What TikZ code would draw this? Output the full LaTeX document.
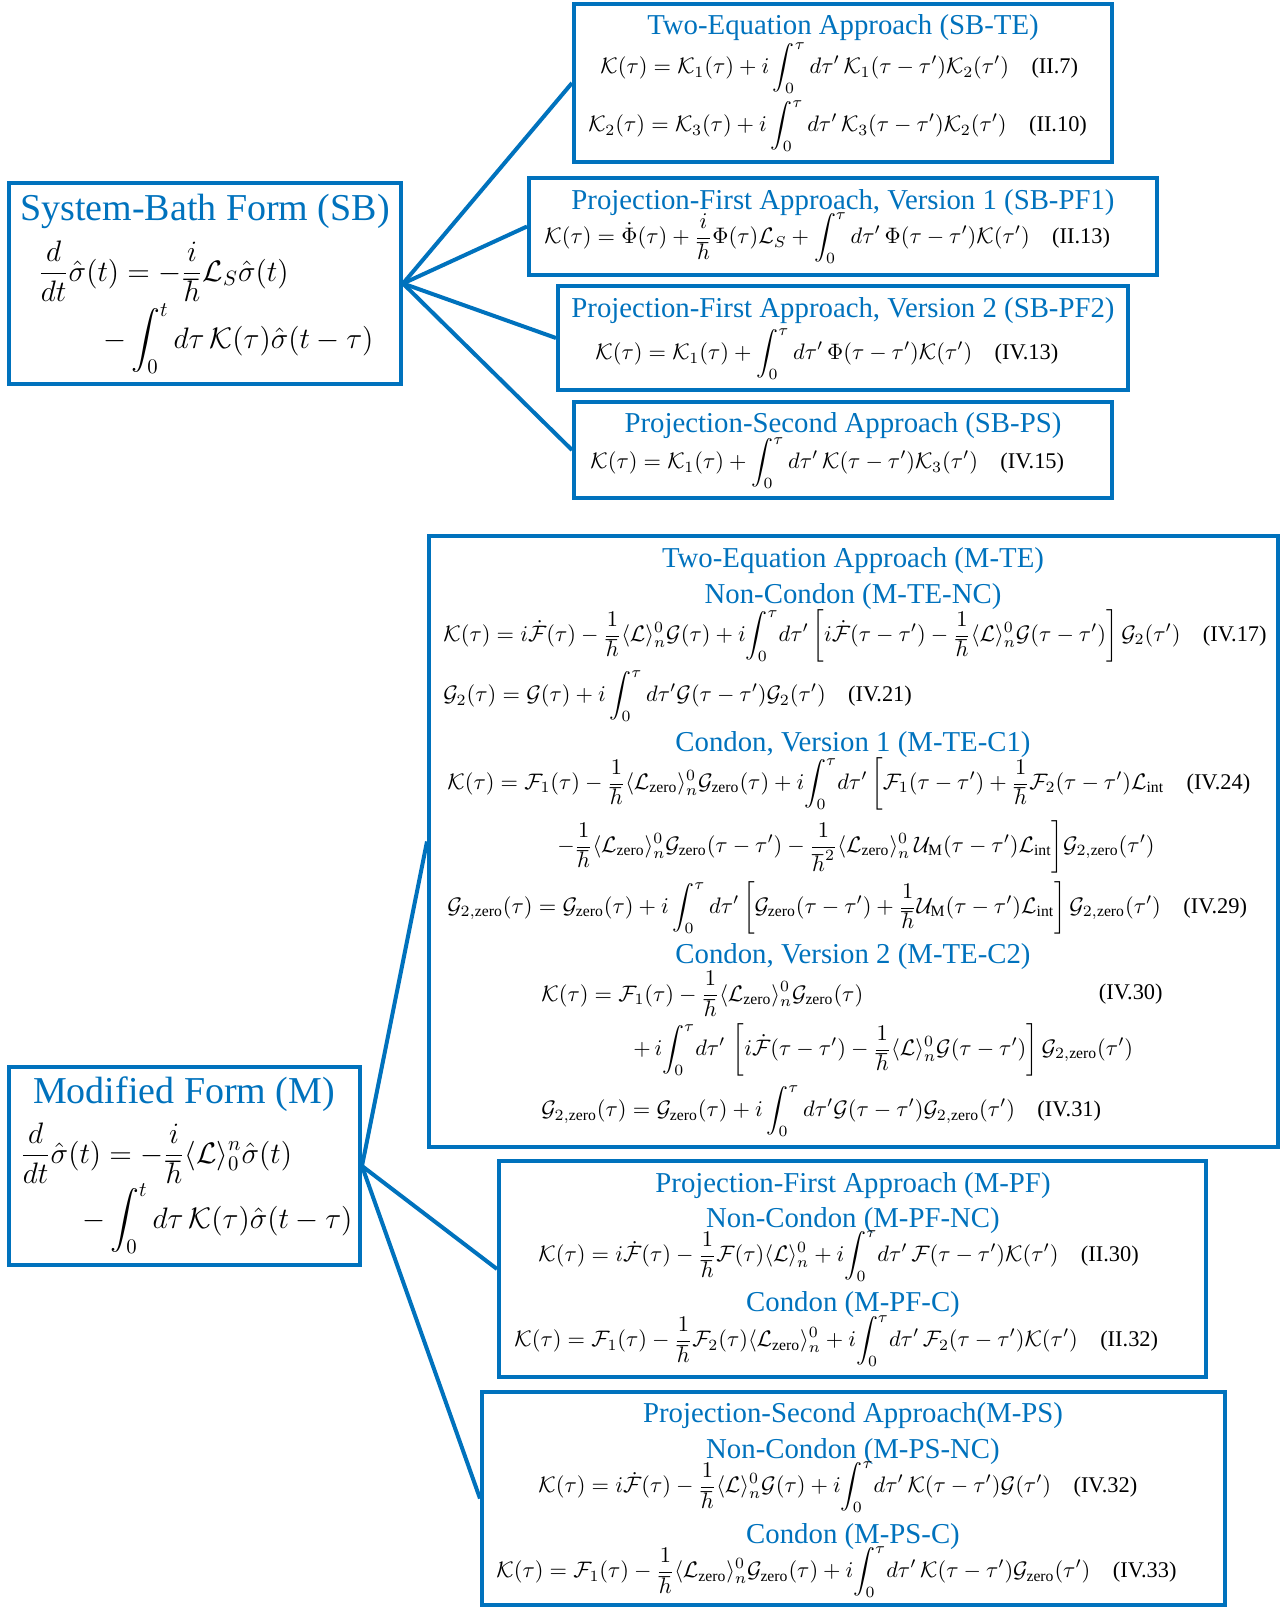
\documentclass[tikz,border=0pt]{standalone}
\usepackage{fix-cm}
\usepackage{amsmath}
\usepackage{fontspec}
\setmainfont{Liberation Serif}
\usepackage{tikz}
\definecolor{boxblue}{RGB}{0,114,189}
\newcommand{\Kc}{\mathcal{K}}
\newcommand{\Fc}{\mathcal{F}}
\newcommand{\Gc}{\mathcal{G}}
\newcommand{\Lc}{\mathcal{L}}
\newcommand{\zr}{\text{zero}}

\begin{document}
\begin{tikzpicture}[x=0.5pt,y=-0.5pt,
  box/.style={draw=boxblue,line width=2pt,inner sep=0pt},
  link/.style={boxblue,line width=2pt},
  head/.style={text=boxblue,font=\fontsize{14.4}{17}\selectfont,inner sep=0pt},
  bighead/.style={text=boxblue,font=\fontsize{19}{23}\selectfont,inner sep=0pt},
  eq/.style={font=\fontsize{11.2}{13}\selectfont,inner sep=0pt,anchor=west},
  bigeq/.style={font=\fontsize{14.8}{17}\selectfont,inner sep=0pt,anchor=west}]
\useasboundingbox (0,0) rectangle (1281,1608);
\node[box,minimum width=196pt,minimum height=100.5pt] (sb) at (205,283.5) {};
\node[box,minimum width=269pt,minimum height=79pt] (sbte) at (843,83) {};
\node[box,minimum width=314pt,minimum height=48.5pt] (sbpfa) at (843,226.5) {};
\node[box,minimum width=285pt,minimum height=52pt] (sbpfb) at (843,338) {};
\node[box,minimum width=269pt,minimum height=48pt] (sbps) at (843,450) {};
\node[box,minimum width=175.5pt,minimum height=99pt] (m) at (184.5,1166) {};
\node[box,minimum width=424.5pt,minimum height=305.5pt] (mte) at (853.5,841.5) {};
\node[box,minimum width=353.5pt,minimum height=108pt] (mpf) at (852.5,1269) {};
\node[box,minimum width=371.5pt,minimum height=106.5pt] (mps) at (853.5,1498.5) {};
\draw[link] (sb.east) -- (sbte.west);
\draw[link] (sb.east) -- (sbpfa.west);
\draw[link] (sb.east) -- (sbpfb.west);
\draw[link] (sb.east) -- (sbps.west);
\draw[link] (m.east) -- (mte.west);
\draw[link] (m.east) -- (mpf.west);
\draw[link] (m.east) -- (mps.west);
\node[bighead] (sbtitle) at (205,211) {System-Bath Form (SB)};
\node[bigeq] (sbeqa) at (38,271) {$\displaystyle \frac{d}{dt}\hat{\sigma}(t)=-\frac{i}{\hbar}\Lc_S\hat{\sigma}(t)$};
\node[bigeq] (sbeqb) at (103,339) {$\displaystyle -\int_0^t d\tau\,\Kc(\tau)\hat{\sigma}(t-\tau)$};
\node[head] (sbtetitle) at (843,28) {Two-Equation Approach (SB-TE)};
\node[eq] (sbteeqa) at (600,68) {$\displaystyle \Kc(\tau)=\Kc_1(\tau)+i\int_0^\tau d\tau'\,\Kc_1(\tau-\tau')\Kc_2(\tau')$\quad(II.7)};
\node[eq] (sbteeqb) at (588,126) {$\displaystyle \Kc_2(\tau)=\Kc_3(\tau)+i\int_0^\tau d\tau'\,\Kc_3(\tau-\tau')\Kc_2(\tau')$\quad(II.10)};
\node[head] (sbpfatitle) at (843,203) {Projection-First Approach, Version 1 (SB-PF1)};
\node[eq] (sbpfaeq) at (544,238) {$\displaystyle \Kc(\tau)=\dot{\Phi}(\tau)+\frac{i}{\hbar}\Phi(\tau)\Lc_S+\int_0^\tau d\tau'\,\Phi(\tau-\tau')\Kc(\tau')$\quad(II.13)};
\node[head] (sbpfbtitle) at (843,311) {Projection-First Approach, Version 2 (SB-PF2)};
\node[eq] (sbpfbeq) at (595,354) {$\displaystyle \Kc(\tau)=\Kc_1(\tau)+\int_0^\tau d\tau'\,\Phi(\tau-\tau')\Kc(\tau')$\quad(IV.13)};
\node[head] (sbpstitle) at (843,426) {Projection-Second Approach (SB-PS)};
\node[eq] (sbpseq) at (590,463) {$\displaystyle \Kc(\tau)=\Kc_1(\tau)+\int_0^\tau d\tau'\,\Kc(\tau-\tau')\Kc_3(\tau')$\quad(IV.15)};
\node[head] (mtetitle) at (853,561) {Two-Equation Approach (M-TE)};
\node[head] (mtenc) at (853,597) {Non-Condon (M-TE-NC)};
\node[eq] (mteeqa) at (443,636) {$\displaystyle \Kc(\tau)=i\dot{\Fc}(\tau)-\frac{1}{\hbar}\langle\Lc\rangle_n^0\Gc(\tau)+i\!\int_0^\tau\! d\tau'\left[i\dot{\Fc}(\tau-\tau')-\frac{1}{\hbar}\langle\Lc\rangle_n^0\Gc(\tau-\tau')\right]\Gc_2(\tau')$\quad(IV.17)};
\node[eq] (mteeqb) at (443,696) {$\displaystyle \Gc_2(\tau)=\Gc(\tau)+i\int_0^\tau d\tau'\Gc(\tau-\tau')\Gc_2(\tau')$\quad(IV.21)};
\node[head] (mtecone) at (853,745) {Condon, Version 1 (M-TE-C1)};
\node[eq] (mteeqc) at (447,784) {$\displaystyle \Kc(\tau)=\Fc_1(\tau)-\frac{1}{\hbar}\langle\Lc_{\zr}\rangle_n^0\Gc_{\zr}(\tau)+i\!\int_0^\tau\! d\tau'\,\biggl[\Fc_1(\tau-\tau')+\frac{1}{\hbar}\Fc_2(\tau-\tau')\Lc_{\text{int}}$\quad(IV.24)};
\node[eq] (mteeqd) at (557,847) {$\displaystyle -\frac{1}{\hbar}\langle\Lc_{\zr}\rangle_n^0\Gc_{\zr}(\tau-\tau')-\frac{1}{\hbar^2}\langle\Lc_{\zr}\rangle_n^0\,\mathcal{U}_{\text{M}}(\tau-\tau')\Lc_{\text{int}}\biggr]\Gc_{2,\zr}(\tau')$};
\node[eq] (mteeqe) at (447,908) {$\displaystyle \Gc_{2,\zr}(\tau)=\Gc_{\zr}(\tau)+i\int_0^\tau d\tau'\left[\Gc_{\zr}(\tau-\tau')+\frac{1}{\hbar}\mathcal{U}_{\text{M}}(\tau-\tau')\Lc_{\text{int}}\right]\Gc_{2,\zr}(\tau')$\quad(IV.29)};
\node[head] (mtectwo) at (853,957) {Condon, Version 2 (M-TE-C2)};
\node[eq] (mteeqf) at (541,994) {$\displaystyle \Kc(\tau)=\Fc_1(\tau)-\frac{1}{\hbar}\langle\Lc_{\zr}\rangle_n^0\Gc_{\zr}(\tau)$};
\node[eq,anchor=east] (mtetagf) at (1163,994) {(IV.30)};
\node[eq] (mteeqg) at (633,1050) {$\displaystyle +\,i\!\int_0^\tau\! d\tau'\,\left[i\dot{\Fc}(\tau-\tau')-\frac{1}{\hbar}\langle\Lc\rangle_n^0\Gc(\tau-\tau')\right]\Gc_{2,\zr}(\tau')$};
\node[eq] (mteeqh) at (541,1111) {$\displaystyle \Gc_{2,\zr}(\tau)=\Gc_{\zr}(\tau)+i\int_0^\tau d\tau'\Gc(\tau-\tau')\Gc_{2,\zr}(\tau')$\quad(IV.31)};
\node[bighead] (mtitle) at (184,1094) {Modified Form (M)};
\node[bigeq] (meqa) at (20,1153) {$\displaystyle \frac{d}{dt}\hat{\sigma}(t)=-\frac{i}{\hbar}\langle\Lc\rangle_0^n\hat{\sigma}(t)$};
\node[bigeq] (meqb) at (82,1219) {$\displaystyle -\int_0^t d\tau\,\Kc(\tau)\hat{\sigma}(t-\tau)$};
\node[head] (mpftitle) at (853,1186) {Projection-First Approach (M-PF)};
\node[head] (mpfnc) at (853,1221) {Non-Condon (M-PF-NC)};
\node[eq] (mpfeqa) at (538,1256) {$\displaystyle \Kc(\tau)=i\dot{\Fc}(\tau)-\frac{1}{\hbar}\Fc(\tau)\langle\Lc\rangle_n^0+i\!\int_0^\tau\! d\tau'\,\Fc(\tau-\tau')\Kc(\tau')$\quad(II.30)};
\node[head] (mpfc) at (853,1305) {Condon (M-PF-C)};
\node[eq] (mpfeqb) at (514,1341) {$\displaystyle \Kc(\tau)=\Fc_1(\tau)-\frac{1}{\hbar}\Fc_2(\tau)\langle\Lc_{\zr}\rangle_n^0+i\!\int_0^\tau\! d\tau'\,\Fc_2(\tau-\tau')\Kc(\tau')$\quad(II.32)};
\node[head] (mpstitle) at (853,1416) {Projection-Second Approach(M-PS)};
\node[head] (mpsnc) at (853,1452) {Non-Condon (M-PS-NC)};
\node[eq] (mpseqa) at (538,1487) {$\displaystyle \Kc(\tau)=i\dot{\Fc}(\tau)-\frac{1}{\hbar}\langle\Lc\rangle_n^0\Gc(\tau)+i\!\int_0^\tau\! d\tau'\,\Kc(\tau-\tau')\Gc(\tau')$\quad(IV.32)};
\node[head] (mpsc) at (853,1537) {Condon (M-PS-C)};
\node[eq] (mpseqb) at (496,1572) {$\displaystyle \Kc(\tau)=\Fc_1(\tau)-\frac{1}{\hbar}\langle\Lc_{\zr}\rangle_n^0\Gc_{\zr}(\tau)+i\!\int_0^\tau\! d\tau'\,\Kc(\tau-\tau')\Gc_{\zr}(\tau')$\quad(IV.33)};
\end{tikzpicture}
\end{document}
